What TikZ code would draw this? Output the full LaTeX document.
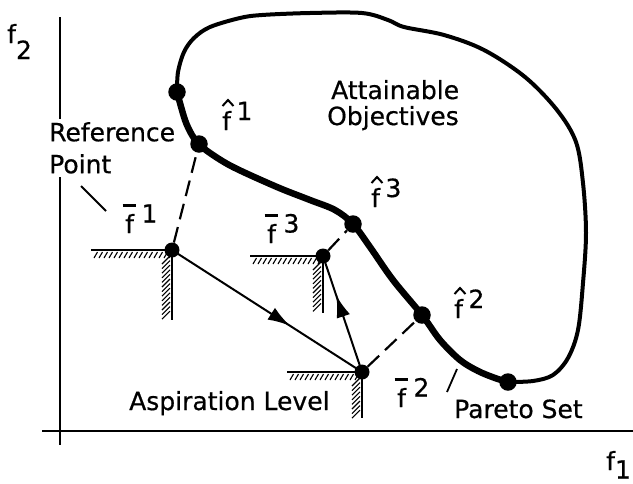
\documentclass[tikz,border=0pt]{standalone}
\usepackage{fontspec}
\setmainfont{DejaVu Sans}[FakeBold=0.6]
\usetikzlibrary{arrows.meta,decorations.markings}
\newcommand\fsup[1]{f\hspace{0.22em}\raisebox{0.4em}{#1}}
\newcommand\fbar[1]{\ooalign{f\cr\hidewidth\raisebox{1.05em}{\rule{0.55em}{0.11em}}\hidewidth\cr}\hspace{0.3em}\raisebox{0.42em}{#1}}
\newcommand\HatOn[1]{\draw[hatline, shift={(#1.base west)}] (0.5,-24) -- (6,-30) -- (11.5,-24);}
\newcommand\RefCorner[4]{% cx cy hx vy
  \draw[refline] (#3,#2) -- (#1,#2) -- (#1,#4);
  \pgfmathtruncatemacro\hatchN{(#1-#3-6)/5}
  \foreach \i in {0,...,\hatchN}{\draw[hatch] ({#3+3+5*\i},{#2+8}) -- ++(3.5,-6);}
  \pgfmathtruncatemacro\hatchM{(#4-#2-12)/4.6}
  \foreach \i in {0,...,\hatchM}{\draw[hatch] ({#1-10},{#2+14+4.6*\i}) -- ++(8,-8);}
}
\begin{document}
\begin{tikzpicture}[x=1pt,y=-1pt,
  txt/.style={font=\fontsize{25}{30}\selectfont, inner sep=0pt, anchor=base west},
  hatdot/.style={circle, fill=black, inner sep=0pt, minimum size=17.5pt},
  bardot/.style={circle, fill=black, inner sep=0pt, minimum size=15pt},
  outline/.style={line width=4pt, line join=round, line cap=round},
  pareto/.style={line width=6.5pt, line join=round, line cap=round},
  axisline/.style={line width=2.2pt},
  refline/.style={line width=2.6pt},
  hatch/.style={line width=1.1pt},
  hatline/.style={line width=2pt, line join=miter},
  dashline/.style={line width=2.2pt, dash pattern=on 16pt off 8pt},
  arrowline/.style={line width=2pt},
  leader/.style={line width=1.8pt},
  midarrow/.style={postaction={decorate}, decoration={markings, mark=at position #1 with {\arrow{Latex[length=22pt,width=14pt]}}}}
]
\useasboundingbox (0,0) rectangle (633,483);

% axes
\draw[axisline] (60,17) -- (60,445);
\draw[axisline] (42,431) -- (633,431);
\node[txt] (f2lab) at (7,43) {f\raisebox{-0.64em}{2}};
\node[txt] (f1lab) at (606,470) {f\raisebox{-0.34em}{1}};

% dots (positions)
\coordinate (d0) at (177,92);
\coordinate (c1) at (199,144);
\coordinate (c3) at (353,224);
\coordinate (c2) at (422,315);
\coordinate (d4) at (508,382);

% outer boundary
\draw[outline] plot[smooth, tension=0.55] coordinates {(d0) (178,72) (184,52) (194,38) (210,27) (240,18) (262,15) (310,13) (362,13) (388,20) (404,27) (444,35) (484,50) (525,77) (557,110) (576,142) (583,183) (586,233) (583,283) (578,330) (568,358) (553,375) (533,381) (d4)};

% Pareto set
\draw[pareto] plot[smooth, tension=0.55] coordinates {(d0) (185,120) (192,135) (c1) (210,153) (233,167) (277,187) (310,200) (335,210) (c3) (370,247) (393,280) (c2) (440,340) (460,360) (478,371) (495,378) (d4)};

\node[hatdot] (p0) at (d0) {};
\node[hatdot] (h1) at (c1) {};
\node[hatdot] (h3) at (c3) {};
\node[hatdot] (h2) at (c2) {};
\node[hatdot] (p4) at (d4) {};

% reference corners
\RefCorner{172}{250}{91}{320}
\RefCorner{323}{256}{250}{313}
\RefCorner{362}{372}{287}{418}

\node[bardot] (b1) at (172,250) {};
\node[bardot] (b3) at (323,256) {};
\node[bardot] (b2) at (362,372) {};

% dashed projections
\draw[dashline] (b1) -- (h1);
\draw[dashline] (b3) -- (h3);
\draw[dashline] (b2) -- (h2);

% arrows
\draw[arrowline, midarrow=0.62] (b1.center) -- (b2.center);
\draw[arrowline, midarrow=0.66] (b2.center) -- (b3.center);

% labels
\node[txt] (lh1) at (222,130) {\fsup{1}};
\node[txt] (lh3) at (371,207) {\fsup{3}};
\node[txt] (lh2) at (454,318) {\fsup{2}};
\HatOn{lh1}
\HatOn{lh3}
\HatOn{lh2}
\node[txt] (lb1) at (125,233) {\fbar{1}};
\node[txt] (lb3) at (267,243) {\fbar{3}};
\node[txt] (lb2) at (397,407) {\fbar{2}};

\node[txt] (att) at (331,99) {Attainable};
\node[txt] (obj) at (327,125) {Objectives};
\node[fill=white, inner xsep=2pt, inner ysep=3pt, align=left, anchor=north west,
      font=\fontsize{25}{32}\selectfont] (ref) at (47,119) {Reference\\Point};
\node[txt] (asp) at (129,410) {Aspiration Level};
\node[txt] (par) at (454,418) {Pareto Set};

% leaders
\coordinate (rl1) at (81,186);
\coordinate (rl2) at (106,211);
\draw[leader] (rl1) -- (rl2);
\coordinate (pl1) at (457,369);
\coordinate (pl2) at (447,392);
\draw[leader] (pl1) -- (pl2);
\end{tikzpicture}
\end{document}
